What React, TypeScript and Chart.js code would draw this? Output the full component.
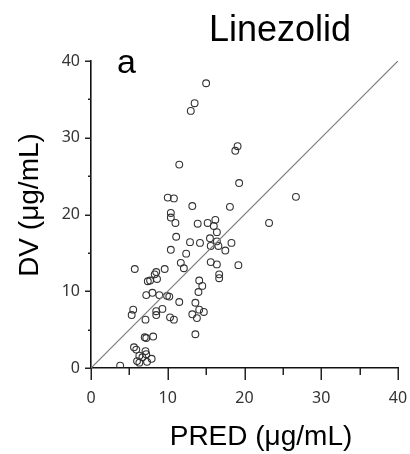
import { useEffect, useRef } from 'react';
import { Chart, registerables } from 'chart.js';

Chart.register(...registerables);

// Observed (DV) vs population-predicted (PRED) concentrations, µg/mL
const pred = [15.0, 13.5, 13.0, 19.1, 18.8, 11.5, 19.3, 26.7, 10.0, 10.8, 13.2, 18.1, 10.4, 10.4, 23.2, 11.0, 13.9, 15.2, 16.2, 16.0, 16.4, 11.1, 15.5, 12.9, 14.2, 16.4, 18.3, 15.6, 16.6, 17.5, 10.4, 12.4, 11.7, 12.1, 15.6, 16.4, 19.2, 16.7, 16.7, 14.1, 14.5, 14.0, 5.7, 9.6, 8.5, 8.3, 8.6, 7.7, 7.4, 7.2, 8.0, 8.9, 9.9, 10.2, 11.5, 13.6, 9.3, 8.5, 8.5, 14.1, 14.7, 13.2, 13.8, 13.6, 10.3, 10.8, 7.1, 5.5, 5.3, 7.0, 7.2, 8.1, 5.6, 5.9, 7.1, 7.2, 6.3, 6.7, 7.9, 6.0, 6.3, 7.3, 3.8];
const dv = [37.1, 34.5, 33.5, 28.9, 28.3, 26.5, 24.1, 22.3, 22.2, 22.1, 21.1, 21.0, 20.2, 19.6, 18.9, 18.9, 18.8, 18.9, 19.3, 18.5, 17.7, 17.1, 16.9, 16.4, 16.3, 16.5, 16.3, 15.9, 15.9, 15.3, 15.4, 14.9, 13.7, 13.0, 13.8, 13.5, 13.4, 12.2, 11.7, 11.4, 10.7, 9.9, 12.9, 12.9, 12.5, 12.2, 11.6, 11.4, 11.3, 9.5, 9.8, 9.5, 9.4, 9.3, 8.6, 8.5, 7.7, 7.4, 6.9, 7.6, 7.3, 7.0, 6.5, 4.4, 6.6, 6.3, 6.3, 7.6, 6.9, 4.0, 3.9, 4.1, 2.7, 2.4, 2.2, 1.8, 1.6, 1.4, 1.2, 0.9, 0.7, 0.8, 0.3];
const identityLine = [0, 40];
const tickValues = [0, 5, 10, 15, 20, 25, 30, 35, 40];
const axisMin = 0;
const axisMax = 40;

const decorPlugin = {
  id: 'decor',
  afterDraw(chart: any) {
    const { ctx, chartArea, scales } = chart;
    const xs = scales.x;
    const ys = scales.y;
    ctx.save();
    ctx.strokeStyle = '#222';
    ctx.lineWidth = 1.5;
    for (const v of tickValues) {
      const px = Math.round(xs.getPixelForValue(v)) + 0.25;
      const xl = v % 10 === 0 ? 12 : 7;
      ctx.beginPath();
      ctx.moveTo(px, chartArea.bottom);
      ctx.lineTo(px, chartArea.bottom + xl);
      ctx.stroke();
      const py = Math.round(ys.getPixelForValue(v)) + 0.25;
      const yl = v % 10 === 0 ? 6 : 3;
      ctx.beginPath();
      ctx.moveTo(chartArea.left, py);
      ctx.lineTo(chartArea.left - yl, py);
      ctx.stroke();
    }
    ctx.fillStyle = '#000';
    ctx.textBaseline = 'alphabetic';
    ctx.font = '36px "Liberation Sans", Arial, sans-serif';
    ctx.textAlign = 'center';
    ctx.fillText('Linezolid', 280, 41);
    ctx.font = '34px "Liberation Sans", Arial, sans-serif';
    ctx.textAlign = 'left';
    ctx.fillText('a', 117, 73);
    ctx.font = '28px "Liberation Sans", Arial, sans-serif';
    ctx.textAlign = 'center';
    ctx.fillText('PRED (μg/mL)', 261, 445);
    ctx.translate(38, 205);
    ctx.rotate(-Math.PI / 2);
    ctx.fillText('DV (μg/mL)', 0, 0);
    ctx.restore();
  },
};

export default function App() {
  const ref = useRef<HTMLCanvasElement | null>(null);
  useEffect(() => {
    document.body.style.margin = '0';
    if (!ref.current) return;
    const points = pred.map((p, i) => ({ x: p, y: dv[i] }));
    const tickFont = { family: '"Noto Sans", "Open Sans", sans-serif', size: 16 };
    const chart = new Chart(ref.current, {
      type: 'scatter',
      data: {
        datasets: [
          {
            type: 'line',
            data: identityLine.map((v) => ({ x: v, y: v })),
            borderColor: '#7a7a7a',
            borderWidth: 1.2,
            pointRadius: 0,
            fill: false,
          } as any,
          {
            data: points,
            pointStyle: 'circle',
            pointRadius: 3.4,
            borderWidth: 1.1,
            borderColor: '#333',
            backgroundColor: 'rgba(0,0,0,0)',
          },
        ],
      },
      options: {
        animation: false,
        responsive: true,
        maintainAspectRatio: false,
        layout: { padding: { left: 0, right: 12, top: 61, bottom: 0 } },
        plugins: { legend: { display: false }, tooltip: { enabled: false }, title: { display: false } },
        scales: {
          x: {
            type: 'linear',
            min: axisMin,
            max: axisMax,
            grid: { display: false, drawTicks: false },
            border: { display: true, color: '#111', width: 1.6 },
            ticks: {
              stepSize: 5,
              padding: 21,
              color: '#333',
              font: tickFont,
              maxRotation: 0,
              autoSkip: false,
              callback: (v: any) => (Number(v) % 10 === 0 ? String(v) : ''),
            },
            afterFit: (s: any) => {
              s.height = 86;
              s.paddingLeft = 0;
              s.paddingRight = 0;
            },
          },
          y: {
            type: 'linear',
            min: axisMin,
            max: axisMax,
            grid: { display: false, drawTicks: false },
            border: { display: true, color: '#111', width: 1.6 },
            ticks: {
              stepSize: 5,
              padding: 11,
              color: '#333',
              font: tickFont,
              autoSkip: false,
              callback: (v: any) => (Number(v) % 10 === 0 ? String(v) : ''),
            },
            afterFit: (s: any) => {
              s.width = 91;
              s.paddingTop = 0;
              s.paddingBottom = 0;
            },
          },
        },
      },
      plugins: [decorPlugin],
    });
    return () => chart.destroy();
  }, []);
  return (
    <div style={{ width: 410, height: 454, position: 'relative' }}>
      <canvas ref={ref} />
    </div>
  );
}
